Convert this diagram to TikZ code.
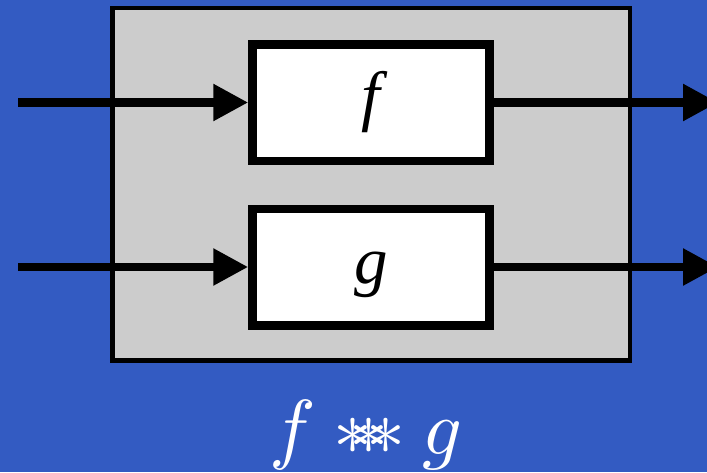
\documentclass[tikz,border=0pt]{standalone}
\usepackage{fontspec}
\newfontfamily\boxfont{Liberation Serif}
\usetikzlibrary{
    arrows.meta,
    positioning
}
\definecolor{bgBlue}{HTML}{335BC2}
\definecolor{parGray}{HTML}{CCCCCC}

\begin{document}
\begin{tikzpicture}[x=1pt,y=-1pt,
        parbox/.style={draw=black,fill=parGray,line width=4.5pt,inner sep=0pt,
            minimum width=517.5pt,minimum height=352.5pt},
        fnbox/.style={draw=black,fill=white,line width=8.5pt,inner sep=0pt,
            minimum width=237pt,minimum height=116.5pt,
            text height=48pt,text depth=16pt,
            font=\boxfont\itshape\fontsize{67}{72}\selectfont},
        wire/.style={line width=8.5pt,-{Triangle[length=35pt,width=35pt]}}]
        % Background
        \useasboundingbox (0,0) rectangle (707,472);
        \fill[bgBlue] (0,0) rectangle (707,472);

        % Parallel composition
        \node[parbox] (par) at (371.25,184.25) {};
        \node[fnbox] (fbox) at (371,102.5) {f};
        \node[fnbox] (gbox) at (371,267) {g};

        % Inputs and outputs
        \coordinate (fin) at (18,102.5);
        \coordinate (gin) at (18,267);
        \coordinate (fout) at (718,102.5);
        \coordinate (gout) at (718,267);
        \draw[wire] (fin) -- (fbox.west);
        \draw[wire] (gin) -- (gbox.west);
        \draw[wire] (fbox.east) -- (fout);
        \draw[wire] (gbox.east) -- (gout);

        % Combinator (scaled from 10pt)
        \node[anchor=base,text=white,inner sep=0pt,scale=7.8]
            (combo) at (366,454)
            {$f \mathbin{{\ast}\mkern-5.2mu{\ast}\mkern-5.2mu{\ast}} g$};
    \end{tikzpicture}
\end{document}
